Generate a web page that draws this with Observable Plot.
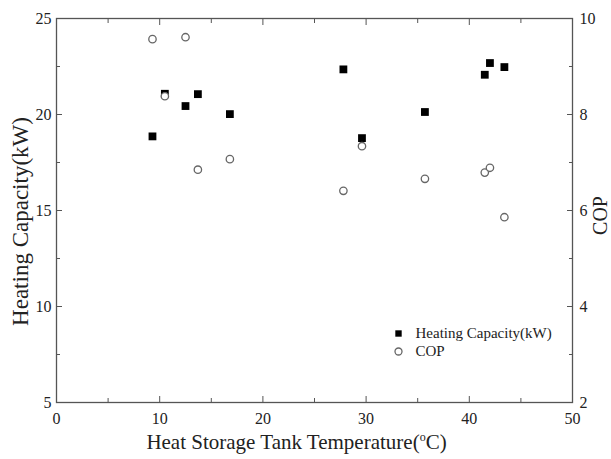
<!DOCTYPE html>
<html>
<head>
<meta charset="utf-8">
<script src="https://cdn.jsdelivr.net/npm/d3@7"></script>
<script src="https://cdn.jsdelivr.net/npm/@observablehq/plot@0.6"></script>
<style>
  html, body { margin: 0; padding: 0; background: #fff; }
  #chart { width: 611px; height: 459px; }
</style>
</head>
<body>
<div id="chart"></div>
<script>
// Data
const temperature = [9.3, 10.5, 12.5, 13.7, 16.8, 27.8, 29.6, 35.7, 41.5, 42.0, 43.4];
const heatingCapacity = [18.86, 21.08, 20.44, 21.06, 20.02, 22.35, 18.77, 20.13, 22.07, 22.68, 22.47];
const copValues = [9.57, 8.38, 9.61, 6.85, 7.07, 6.41, 7.34, 6.66, 6.79, 6.89, 5.86];

const xTicks = [0, 10, 20, 30, 40, 50];
const xMinorTicks = [5, 15, 25, 35, 45];
const yTicks = [5, 10, 15, 20, 25];
const yMinorTicks = [7.5, 12.5, 17.5, 22.5];
const copTicks = [2, 4, 6, 8, 10];
const copMinorTicks = [3, 5, 7, 9];

const xLabel = "Heat Storage Tank Temperature(";
const yLabel = "Heating Capacity(kW)";
const y2Label = "COP";
const legendLabels = ["Heating Capacity(kW)", "COP"];

// COP (2..10) shares the left scale (5..25)
const copToY = c => 5 + (c - 2) * 2.5;
const yToCop = y => (y - 5) / 2.5 + 2;

const heatData = temperature.map((t, i) => ({t, v: heatingCapacity[i]}));
const copData = temperature.map((t, i) => ({t, v: copValues[i]}));

const ink = "#222";
const frameColor = "#555";

const tickOnly = {fill: "none", stroke: frameColor, label: null};

const chart = Plot.plot({
  width: 611,
  height: 459,
  marginLeft: 56,
  marginRight: 39,
  marginTop: 18,
  marginBottom: 57,
  style: {fontFamily: "'Liberation Serif', 'Times New Roman', serif", fontSize: "16px", color: ink, background: "#fff"},
  x: {domain: [0, 50]},
  y: {domain: [5, 25]},
  marks: [
    // inward ticks
    Plot.axisX(xTicks, {anchor: "bottom", tickSize: -6, ...tickOnly}),
    Plot.axisX(xMinorTicks, {anchor: "bottom", tickSize: -4, ...tickOnly}),
    Plot.axisX(xTicks, {anchor: "top", tickSize: -6, ...tickOnly}),
    Plot.axisX(xMinorTicks, {anchor: "top", tickSize: -4, ...tickOnly}),
    Plot.axisY(yTicks, {anchor: "left", tickSize: -6, ...tickOnly}),
    Plot.axisY(yMinorTicks, {anchor: "left", tickSize: -4, ...tickOnly}),
    Plot.axisY(copTicks.map(copToY), {anchor: "right", tickSize: -6, ...tickOnly}),
    Plot.axisY(copMinorTicks.map(copToY), {anchor: "right", tickSize: -4, ...tickOnly}),
    // tick labels
    Plot.axisX(xTicks, {anchor: "bottom", tickSize: 0, tickPadding: 10, fill: ink, fontSize: 16, label: null}),
    Plot.axisY(yTicks, {anchor: "left", tickSize: 0, tickPadding: 5, fill: ink, fontSize: 16, label: null}),
    Plot.axisY(copTicks.map(copToY), {anchor: "right", tickSize: 0, tickPadding: 7, fill: ink, fontSize: 16, label: null, tickFormat: d => String(Math.round(yToCop(d)))}),
    Plot.frame({stroke: frameColor, strokeWidth: 1.3}),
    // data
    Plot.dot(heatData, {x: "t", y: "v", symbol: "square", r: 4.4, fill: "#000"}),
    Plot.dot(copData, {x: "t", y: d => copToY(d.v), r: 3.7, stroke: "#666", strokeWidth: 1.3, fill: "#fff"}),
    // legend
    Plot.dot([legendLabels[0]], {frameAnchor: "top-left", dx: 342, dy: 315, symbol: "square", r: 3.6, fill: "#000"}),
    Plot.dot([legendLabels[1]], {frameAnchor: "top-left", dx: 342, dy: 333, r: 3.5, stroke: "#666", strokeWidth: 1.3, fill: "#fff"}),
    Plot.text([legendLabels[0]], {frameAnchor: "top-left", dx: 359, dy: 315, text: d => d, textAnchor: "start", lineAnchor: "middle", fontSize: 15, fill: ink}),
    Plot.text([legendLabels[1]], {frameAnchor: "top-left", dx: 359, dy: 333, text: d => d, textAnchor: "start", lineAnchor: "middle", fontSize: 15, fill: ink}),
    // axis titles
    Plot.text([yLabel], {frameAnchor: "left", dx: -36, dy: 11, rotate: -90, text: d => d, textAnchor: "middle", lineAnchor: "middle", fontSize: 23, fill: ink}),
    Plot.text([y2Label], {frameAnchor: "right", dx: 28, dy: 5, rotate: -90, text: d => d, textAnchor: "middle", lineAnchor: "middle", fontSize: 20, fill: ink}),
    Plot.text([xLabel], {frameAnchor: "bottom", dx: -18, dy: 40, text: d => d, textAnchor: "middle", lineAnchor: "middle", fontSize: 21, fill: ink, className: "xtitle"})
  ]
});

document.getElementById("chart").appendChild(chart);

// add superscript "o" + "C)" to the x title as real text
d3.select(chart).selectAll("g.xtitle text").each(function() {
  const t = d3.select(this);
  t.append("tspan").attr("dy", "-8").attr("font-size", "12px").text("o");
  t.append("tspan").attr("dy", "8").text("C)");
});
</script>
</body>
</html>
